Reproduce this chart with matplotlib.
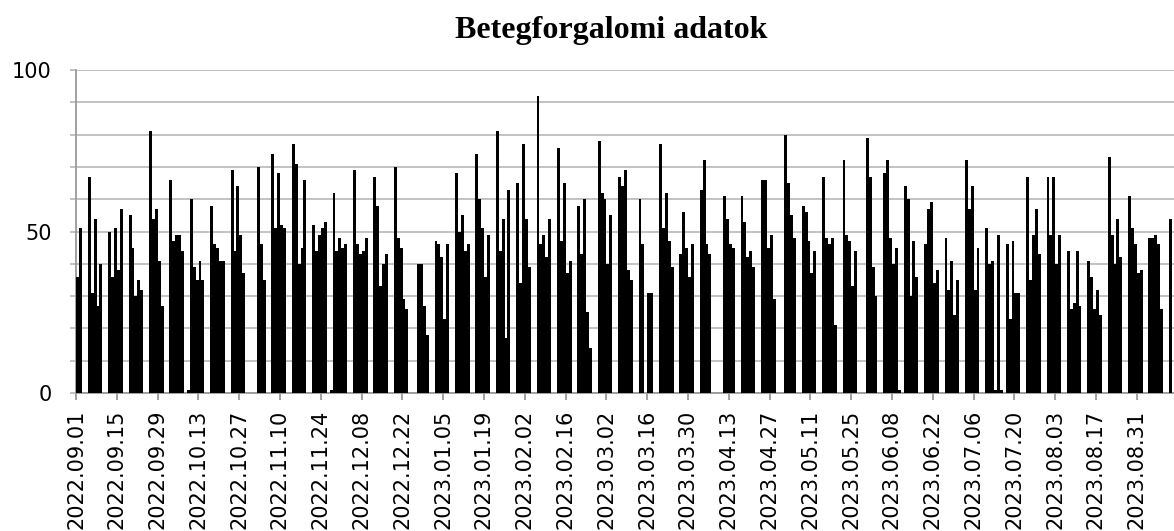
import numpy as np
import pandas as pd
import matplotlib
matplotlib.use("Agg")
import matplotlib.pyplot as plt

# daily values from 2022.09.01 (Thursday); one row per week (Mon..Sun)
start_date = "2022-09-01"
patients = [
    36, 51, 0, 0,
    67, 31, 54, 27, 40, 0, 0,
    50, 36, 51, 38, 57, 0, 0,
    55, 45, 30, 35, 32, 0, 0,
    81, 54, 57, 41, 27, 0, 0,
    66, 47, 49, 49, 44, 0, 1,
    60, 39, 35, 41, 35, 0, 0,
    58, 46, 45, 41, 41, 0, 0,
    69, 44, 64, 49, 37, 0, 0,
    0, 0, 70, 46, 35, 0, 0,
    74, 51, 68, 52, 51, 0, 0,
    77, 71, 40, 45, 66, 0, 0,
    52, 44, 49, 51, 53, 0, 1,
    62, 44, 48, 45, 46, 0, 0,
    69, 46, 43, 44, 48, 0, 0,
    67, 58, 33, 40, 43, 0, 0,
    70, 48, 45, 29, 26, 0, 0,
    0, 40, 40, 27, 18, 0, 0,
    47, 46, 42, 23, 46, 0, 0,
    68, 50, 55, 44, 46, 0, 0,
    74, 60, 51, 36, 49, 0, 0,
    81, 44, 54, 17, 63, 0, 0,
    65, 34, 77, 54, 39, 0, 0,
    92, 46, 49, 42, 54, 0, 0,
    76, 47, 65, 37, 41, 0, 0,
    58, 43, 60, 25, 14, 0, 0,
    78, 62, 60, 40, 55, 0, 0,
    67, 64, 69, 38, 35, 0, 0,
    60, 46, 0, 31, 31, 0, 0,
    77, 51, 62, 47, 39, 0, 0,
    43, 56, 45, 36, 46, 0, 0,
    63, 72, 46, 43, 0, 0, 0,
    0, 61, 54, 46, 45, 0, 0,
    61, 53, 42, 44, 39, 0, 0,
    66, 66, 45, 49, 29, 0, 0,
    0, 80, 65, 55, 48, 0, 0,
    58, 56, 47, 37, 44, 0, 0,
    67, 48, 46, 48, 21, 0, 0,
    72, 49, 47, 33, 44, 0, 0,
    0, 79, 67, 39, 30, 0, 0,
    68, 72, 48, 40, 45, 1, 0,
    64, 60, 30, 47, 36, 0, 0,
    46, 57, 59, 34, 38, 0, 0,
    48, 32, 41, 24, 35, 0, 0,
    72, 57, 64, 32, 45, 0, 0,
    51, 40, 41, 1, 49, 1, 0,
    46, 23, 47, 31, 31, 0, 0,
    67, 35, 49, 57, 43, 0, 0,
    67, 49, 67, 40, 49, 0, 0,
    44, 26, 28, 44, 27, 0, 0,
    41, 36, 26, 32, 24, 0, 0,
    73, 49, 40, 54, 42, 0, 0,
    61, 51, 46, 37, 38, 0, 0,
    48, 48, 49, 46, 26, 0, 0,
    54,
]

tick_labels = [
    "2022.09.01", "2022.09.15", "2022.09.29", "2022.10.13", "2022.10.27",
    "2022.11.10", "2022.11.24", "2022.12.08", "2022.12.22", "2023.01.05",
    "2023.01.19", "2023.02.02", "2023.02.16", "2023.03.02", "2023.03.16",
    "2023.03.30", "2023.04.13", "2023.04.27", "2023.05.11", "2023.05.25",
    "2023.06.08", "2023.06.22", "2023.07.06", "2023.07.20", "2023.08.03",
    "2023.08.17", "2023.08.31",
]
y_labels = ["0", "", "", "", "", "50", "", "", "", "", "100"]

days = pd.date_range(start_date, periods=len(patients))
day_names = list(days.strftime("%Y.%m.%d"))
x = np.arange(len(patients))

W, H = 1174, 531
fig = plt.figure(figsize=(W / 100, H / 100), dpi=100)
ax = fig.add_axes([76 / W, (H - 393) / H, (W - 76) / W, (393 - 70) / H])

ax.bar(x + 0.55, patients, width=1.0, color="black", linewidth=0,
       antialiased=False, zorder=3)

ax.set_xlim(0, (W - 76) / 2.914)
ax.set_ylim(0, 100)

ax.set_xticks([day_names.index(t) for t in tick_labels])
ax.set_xticklabels(tick_labels, rotation=90, fontsize=15, family="DejaVu Sans")
ax.set_yticks(range(0, 101, 10))
ax.set_yticklabels(y_labels, fontsize=15, family="DejaVu Sans")

ax.yaxis.grid(True, color="#BDBDBD", linewidth=1.3, zorder=0)
ax.set_axisbelow(True)
for s in ["top", "right"]:
    ax.spines[s].set_visible(False)
ax.spines["left"].set_color("#9A9A9A")
ax.spines["bottom"].set_color("#9A9A9A")
ax.spines["left"].set_linewidth(1.3)
ax.spines["bottom"].set_linewidth(1.3)
ax.tick_params(axis="x", length=5, width=1.3, color="#9A9A9A", pad=7)
ax.tick_params(axis="y", length=4.5, width=1.3, color="#BDBDBD", pad=13)

fig.text(611 / W, 1 - 31 / H, "Betegforgalomi adatok", ha="center", va="center",
         family="Liberation Serif", weight="bold", fontsize=23)

fig.savefig("out.png", dpi=100)
